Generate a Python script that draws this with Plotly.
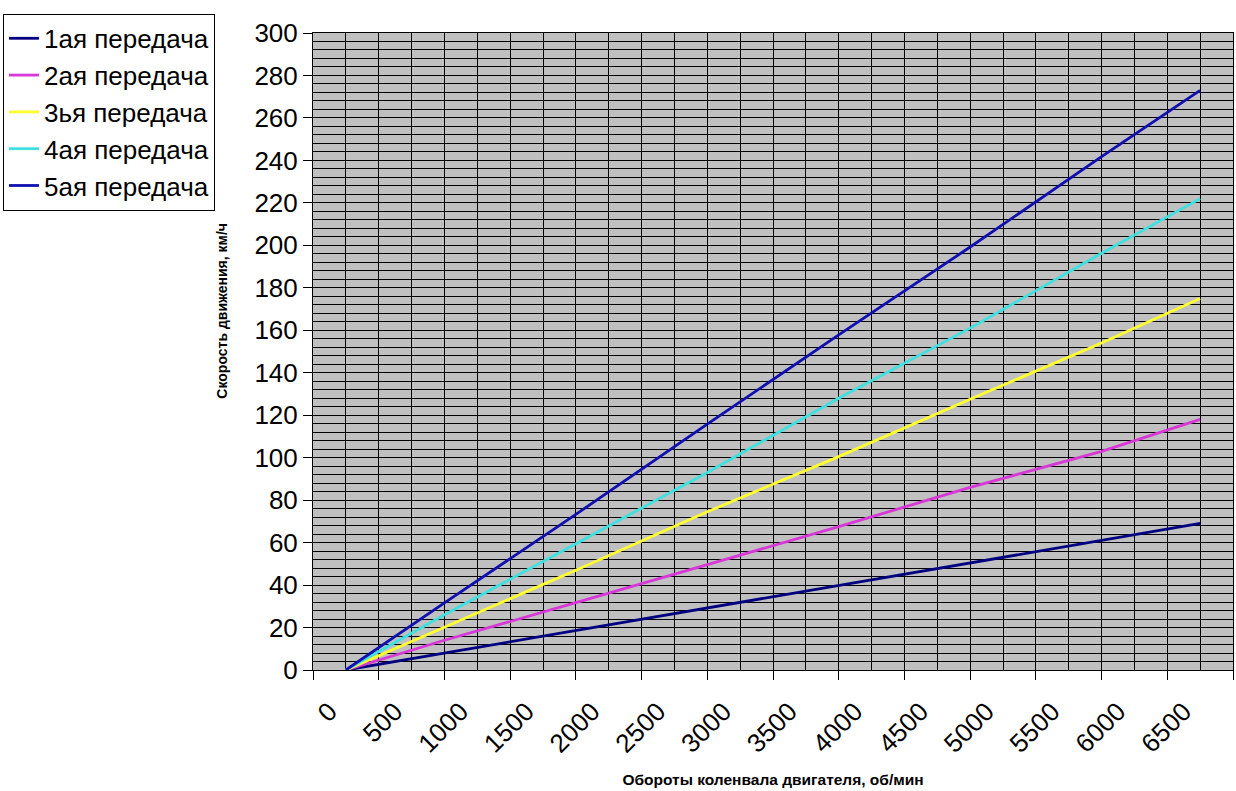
import plotly.graph_objects as go

# engine speed positions (axis units) and vehicle speed, km/h
rpm = [250, 1000, 2000, 3000, 4000, 5000, 6000, 6750]
gear1 = [0, 8, 18.5, 29, 40, 50.5, 61, 69]
gear2 = [0, 14, 31.7, 49.5, 67.5, 86, 103, 118]
gear3 = [0, 20, 47, 74.5, 100.5, 127.5, 154, 175]
gear4 = [0, 26, 59.5, 93, 128, 161, 196.3, 222]
gear5 = [0, 31.6, 73.3, 115.8, 157.8, 199.2, 241.8, 273]

series_names = ["1ая передача", "2ая передача", "3ья передача", "4ая передача", "5ая передача"]
series_colors = ["#000080", "#D838D8", "#FFFF30", "#40E0E0", "#1010B0"]

x_tick_pos = [125 + 500 * i for i in range(14)]
x_tick_text = [str(500 * i) for i in range(14)]

fig = go.Figure()
for name, ys, col in zip(series_names, [gear1, gear2, gear3, gear4, gear5], series_colors):
    fig.add_trace(go.Scatter(x=rpm, y=ys, mode="lines", name=name,
                             line=dict(color=col, width=2.8)))

# invisible trace on secondary x axis for tick marks at category boundaries
fig.add_trace(go.Scatter(x=[0, 7000], y=[0, 0], xaxis="x2", mode="lines",
                         line=dict(width=0), showlegend=False, hoverinfo="skip"))

font_family = "Liberation Sans, Arial, sans-serif"

fig.update_layout(
    width=1236, height=791,
    margin=dict(l=313, r=3, t=33, b=121),
    paper_bgcolor="white",
    plot_bgcolor="#C0C0C0",
    font=dict(family=font_family, color="black"),
    showlegend=True,
    legend=dict(x=-0.337, y=1.03, xanchor="left", yanchor="top",
                bgcolor="white", bordercolor="black", borderwidth=1,
                font=dict(size=26, family=font_family), tracegroupgap=0,
                itemwidth=30),
    xaxis=dict(
        range=[0, 7000],
        tickmode="array", tickvals=x_tick_pos, ticktext=x_tick_text,
        tickangle=-45, ticks="", tickfont=dict(size=26),
        ticklabelstandoff=15,
        showgrid=False, zeroline=False,
        showline=True, linecolor="black", linewidth=1, mirror=True,
        minor=dict(tick0=0, dtick=250, showgrid=True, gridcolor="black", gridwidth=1),
        title=dict(text="<b>Обороты коленвала двигателя, об/мин</b>",
                   font=dict(size=15.5), standoff=16),
    ),
    xaxis2=dict(
        range=[0, 7000], overlaying="x", side="bottom",
        tickmode="linear", tick0=0, dtick=500,
        ticks="outside", ticklen=9, tickcolor="black", tickwidth=1,
        showticklabels=False, showgrid=False, zeroline=False,
    ),
    yaxis=dict(
        range=[0, 300], tickmode="linear", tick0=0, dtick=20,
        ticks="outside", ticklen=9, tickcolor="black",
        tickfont=dict(size=26),
        showgrid=True, gridcolor="black", gridwidth=1,
        zeroline=False,
        showline=True, linecolor="black", linewidth=1, mirror=True,
        minor=dict(dtick=4, showgrid=True, gridcolor="black", gridwidth=1),
    ),
    annotations=[dict(
        text="<b>Скорость движения, км/ч</b>", textangle=-90,
        xref="paper", yref="paper", x=-0.099, y=0.564,
        xanchor="center", yanchor="middle", showarrow=False,
        font=dict(size=14),
    )],
)

fig.write_html("out.html")
